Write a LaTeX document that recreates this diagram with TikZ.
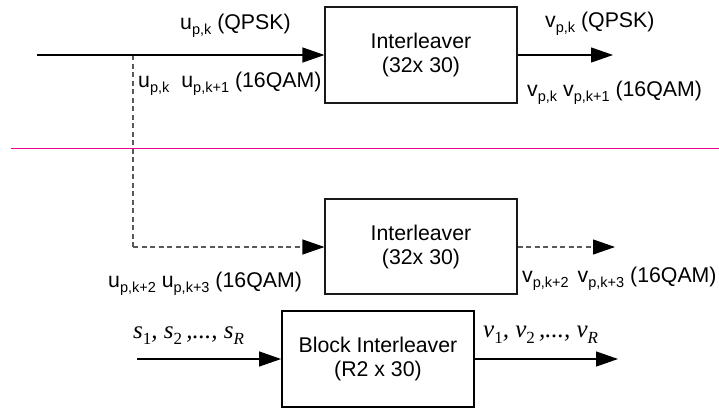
\documentclass[tikz,border=0pt]{standalone}
\usepackage{fontspec}
\setmainfont{Liberation Sans}
\newfontfamily\tms{Liberation Serif}
\usetikzlibrary{arrows.meta}
\newcommand\sbs[1]{\raisebox{-0.28em}{\fontsize{14.5}{14.5}\selectfont #1}}
\newcommand\tsb[1]{\raisebox{-0.25em}{\fontsize{17}{17}\selectfont\upshape #1}}
\begin{document}
\begin{tikzpicture}[x=1pt,y=-1pt,
  font=\fontsize{21.3}{24}\selectfont,
  ilbox/.style={draw=black!90, line width=1.1pt, minimum width=192pt, align=center, inner sep=0pt},
  blbox/.style={draw=black, line width=1.8pt, minimum width=192pt, minimum height=96pt, align=center, inner sep=0pt},
  lbl/.style={anchor=base west, inner sep=0pt},
  arr/.style={line width=1.2pt, -{Triangle[length=22pt, width=15pt]}},
  dsh/.style={draw=black!65, line width=1.1pt, dash pattern=on 5pt off 3.5pt},
  dsharr/.style={dsh, -{Triangle[length=22pt, width=15pt, color=black, fill=black]}}]
\useasboundingbox (0,0) rectangle (719,410);

% boxes
\node[ilbox, minimum height=96pt] (b1) at (421,55) {Interleaver\\(32x 30)};
\node[ilbox, minimum height=95pt] (b2) at (421,246.5) {Interleaver\\(32x 30)};
\node[blbox] (b3) at (378,359) {Block Interleaver\\(R2 x 30)};

% coordinates
\coordinate (in1) at (37,55);
\coordinate (br) at (133,55);
\coordinate (out1) at (613,55);
\coordinate (out2) at (615,247);
\coordinate (in3) at (137,359);
\coordinate (out3) at (618,359);

% separator
\draw[magenta, line width=1pt] (11,148) -- (719,148);

% connectors
\draw[dsh] (br) -- (133,247);
\draw[dsharr] (133,247) -- (b2.west |- 0,247);
\draw[arr] (in1) -- (b1.west);
\draw[arr] (b1.east) -- (out1);
\draw[dsharr] (b2.east |- 0,247) -- (out2);
\draw[arr] (in3) -- (b3.west);
\draw[arr] (b3.east) -- (out3);

% labels
\node[lbl] (l1) at (180,29) {u\sbs{p,k} (QPSK)};
\node[lbl] (l2) at (138,87) {u\sbs{p,k}\hspace{12pt}u\sbs{p,k+1} (16QAM)};
\node[lbl] (l3) at (545,27) {v\sbs{p,k} (QPSK)};
\node[lbl] (l4) at (527,96) {v\sbs{p,k} v\sbs{p,k+1} (16QAM)};
\node[lbl] (l5) at (108,287) {u\sbs{p,k+2} u\sbs{p,k+3} (16QAM)};
\node[lbl] (l6) at (522,282) {v\sbs{p,k+2}\hspace{9pt}v\sbs{p,k+3} (16QAM)};
\node[lbl, font=\tms\itshape\fontsize{25}{26}\selectfont] (l7) at (133,338) {s\tsb{1}, s\tsb{2}\,,..., s\tsb{\itshape R}};
\node[lbl, font=\tms\itshape\fontsize{25}{26}\selectfont] (l8) at (483,337) {v\tsb{1}, v\tsb{2}\,,..., v\tsb{\itshape R}};
\end{tikzpicture}
\end{document}
